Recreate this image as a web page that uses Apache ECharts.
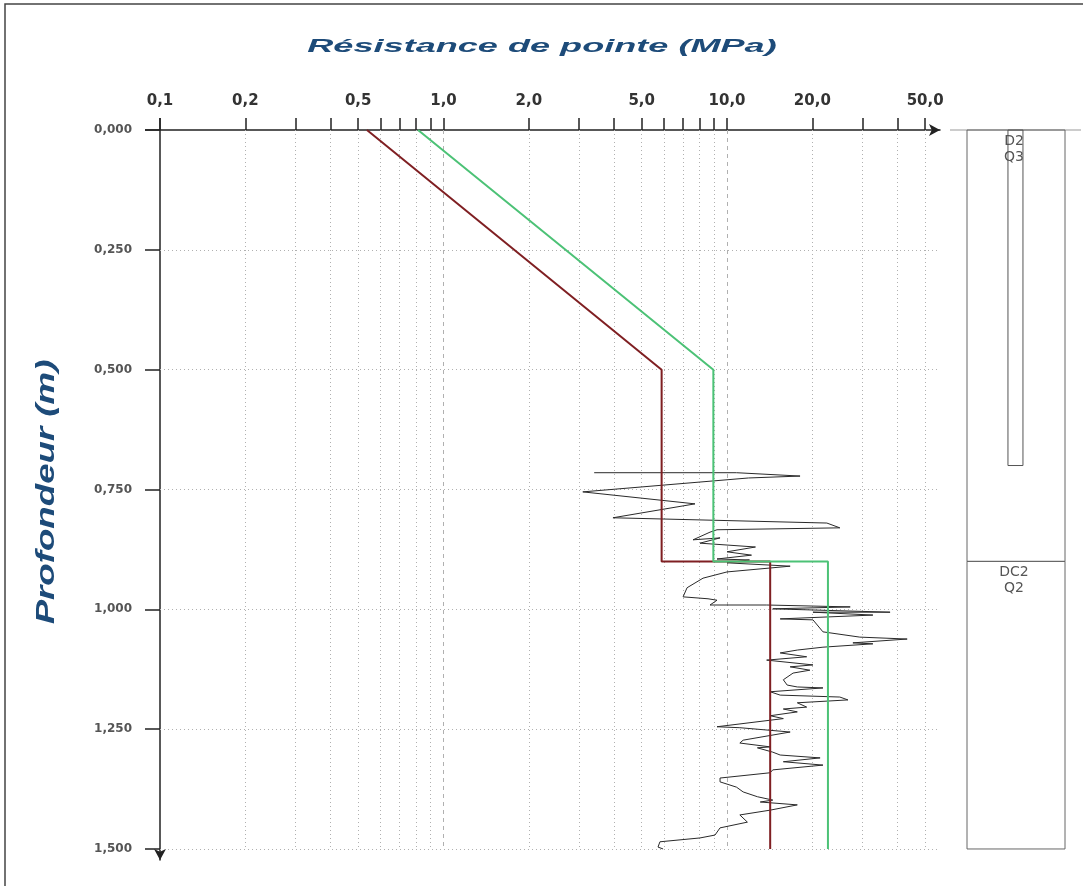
<!DOCTYPE html>
<html><head><meta charset="utf-8">
<script src="https://cdn.jsdelivr.net/npm/echarts@6/dist/echarts.min.js"></script>
<style>html,body{margin:0;padding:0;background:#fff}#c{width:1083px;height:886px}</style>
</head><body><div id="c"></div>
<script>
// ---- data ----
const xTickValues = [0.1,0.2,0.3,0.4,0.5,0.6,0.7,0.8,0.9,1,2,3,4,5,6,7,8,9,10,20,30,40,50];
const xLabelValues = [0.1,0.2,0.5,1,2,5,10,20,50];
const depthTicks = [0,0.25,0.5,0.75,1.0,1.25,1.5];

const redQ     = [0.537, 5.88, 5.88, 14.2, 14.2];
const redDepth = [0,     0.5,  0.9,  0.9,  1.5];
const greenQ     = [0.813, 8.95, 8.95, 22.7, 22.7];
const greenDepth = [0,     0.5,  0.9,  0.9,  1.5];

const profileQ = [3.40,10.8,18.1,11.9,3.10,7.71,3.96,22.5,25.0,9.22,8.71,7.59,9.45,8.03,12.6,10.0,12.2,9.22,12.0,10.0,16.7,10.0,8.23,7.23,7.0,8.57,9.22,8.71,13.8,27.2,14.5,37.6,20.1,32.7,15.4,20.1,21.8,29.4,43.2,27.8,32.7,21.8,17.7,15.4,19.1,13.8,20.1,16.7,19.6,17.1,15.8,16.3,17.7,21.8,14.2,15.4,25.0,26.7,17.7,19.1,15.8,17.7,14.2,15.8,9.22,11.1,16.7,11.4,11.1,14.2,12.8,14.5,15.4,21.3,15.8,21.8,14.5,14.2,9.45,9.45,10.8,11.4,12.8,14.5,13.1,17.7,14.2,11.1,11.8,9.45,9.07,8.03,5.80,5.71,5.95];
const profileDepth = [0.715,0.715,0.722,0.726,0.755,0.780,0.809,0.820,0.830,0.834,0.839,0.855,0.851,0.862,0.870,0.880,0.887,0.895,0.897,0.903,0.910,0.922,0.935,0.955,0.974,0.978,0.981,0.991,0.991,0.995,0.999,1.006,1.006,1.012,1.020,1.022,1.047,1.058,1.062,1.070,1.072,1.079,1.085,1.091,1.099,1.106,1.116,1.120,1.127,1.133,1.147,1.158,1.162,1.164,1.172,1.179,1.183,1.189,1.195,1.204,1.208,1.214,1.222,1.228,1.245,1.247,1.256,1.273,1.279,1.287,1.289,1.298,1.304,1.310,1.318,1.325,1.335,1.341,1.352,1.360,1.371,1.381,1.391,1.398,1.402,1.408,1.419,1.429,1.444,1.456,1.471,1.477,1.485,1.496,1.500];

const layerTop    = [0,   0.9];
const layerBottom = [0.9, 1.5];
const layerNames  = ['D2\nQ3', 'DC2\nQ2'];
const sampleTop = [0];
const sampleBottom = [0.7];

// ---- chart ----
const X_MIN = 0.1, X_MAX = 56.4, Y_MAX = 1.523;
const fmtX = v => Number(v).toFixed(1).replace('.', ',');
const fmtY = v => Number(v).toFixed(3).replace('.', ',');

const gridLines = [];
xTickValues.filter(v => v > X_MIN).forEach(v => {
  const decade = Math.abs(Math.log10(v) - Math.round(Math.log10(v))) < 1e-9;
  gridLines.push([{coord: [v, 0], lineStyle: {type: decade ? [4, 4] : [1, 3], color: '#b0b0b0', width: 1}}, {coord: [v, 1.5]}]);
});
depthTicks.filter(d => d > 0).forEach(d => {
  gridLines.push([{coord: [X_MIN, d], lineStyle: {type: [1, 3], color: '#b0b0b0', width: 1}}, {coord: [X_MAX, d]}]);
});

const chart = echarts.init(document.getElementById('c'));
chart.setOption({
  animation: false,
  backgroundColor: '#fff',
  grid: [
    {left: 160, top: 130, width: 780, bottom: 26},
    {left: 967, top: 130, width: 98, bottom: 26}
  ],
  xAxis: [
    {type: 'log', logBase: 10, gridIndex: 0, position: 'top', min: X_MIN, max: X_MAX,
     axisLine: {show: true, lineStyle: {color: '#222', width: 1.5}, symbol: ['none', 'arrow'], symbolSize: [9, 11]},
     axisTick: {show: true, inside: false, length: 12, customValues: xTickValues, lineStyle: {color: '#222', width: 1.5}},
     axisLabel: {show: true, customValues: xLabelValues, formatter: fmtX, margin: 21,
                 fontFamily: 'DejaVu Sans', fontWeight: 'bold', fontSize: 15, color: '#333'},
     splitLine: {show: false}, minorTick: {show: false}},
    {type: 'value', gridIndex: 1, min: 0, max: 1, show: false}
  ],
  yAxis: [
    {type: 'value', gridIndex: 0, inverse: true, min: 0, max: Y_MAX,
     axisLine: {show: true, lineStyle: {color: '#222', width: 1.5}, symbol: ['arrow', 'none'], symbolSize: [9, 11]},
     axisTick: {show: true, inside: false, length: 15, customValues: depthTicks, lineStyle: {color: '#222', width: 1.5}},
     axisLabel: {show: true, customValues: depthTicks, formatter: fmtY, margin: 28,
                 fontFamily: 'DejaVu Sans', fontWeight: 'bold', fontSize: 12, color: '#555'},
     splitLine: {show: false}},
    {type: 'value', gridIndex: 1, inverse: true, min: 0, max: Y_MAX, show: false}
  ],
  graphic: [
    {type: 'rect', shape: {x: 5, y: 4, width: 1200, height: 1000}, style: {fill: 'none', stroke: '#444', lineWidth: 1.5}, silent: true},
    {type: 'line', shape: {x1: 950, y1: 130, x2: 1081, y2: 130}, style: {stroke: '#999', lineWidth: 1.2}, silent: true},
    {type: 'line', shape: {x1: 145, y1: 130, x2: 160, y2: 130}, style: {stroke: '#222', lineWidth: 1.5}, silent: true},
    {type: 'line', shape: {x1: 160, y1: 118, x2: 160, y2: 130}, style: {stroke: '#222', lineWidth: 1.5}, silent: true},
    {type: 'text', x: 542, y: 47, scaleX: 1.9,
     style: {text: 'Résistance de pointe (MPa)', align: 'center', verticalAlign: 'middle',
             font: 'italic bold 19px "Liberation Sans"', fill: '#1d4b79'}},
    {type: 'text', x: 47, y: 492, rotation: Math.PI / 2, scaleX: 1.41,
     style: {text: 'Profondeur (m)', align: 'center', verticalAlign: 'middle',
             font: 'italic bold 26px "Liberation Sans"', fill: '#1d4b79'}}
  ],
  series: [
    {type: 'line', name: 'profil', xAxisIndex: 0, yAxisIndex: 0, showSymbol: false, symbol: 'none',
     data: profileQ.map((q, i) => [q, profileDepth[i]]),
     lineStyle: {color: '#2a2a2a', width: 1}, z: 3,
     markLine: {silent: true, symbol: ['none', 'none'], label: {show: false}, animation: false, data: gridLines, z: 1}},
    {type: 'line', name: 'rouge', xAxisIndex: 0, yAxisIndex: 0, showSymbol: false, symbol: 'none',
     data: redQ.map((q, i) => [q, redDepth[i]]),
     lineStyle: {color: '#7f1f22', width: 2}, z: 4},
    {type: 'line', name: 'vert', xAxisIndex: 0, yAxisIndex: 0, showSymbol: false, symbol: 'none',
     data: greenQ.map((q, i) => [q, greenDepth[i]]),
     lineStyle: {color: '#4cc276', width: 2}, z: 4},
    {type: 'custom', name: 'couches', xAxisIndex: 1, yAxisIndex: 1, clip: false,
     data: layerTop.map((t, i) => [t, layerBottom[i], i]),
     renderItem: (params, api) => {
       const top = api.value(0), bot = api.value(1), idx = api.value(2);
       const p0 = api.coord([0, top]), p1 = api.coord([1, bot]);
       return {type: 'group', children: [
         {type: 'rect', shape: {x: p0[0], y: p0[1], width: p1[0] - p0[0], height: p1[1] - p0[1]},
          style: {fill: 'none', stroke: '#666', lineWidth: 1}},
         {type: 'text', style: {text: layerNames[idx], x: (p0[0] + p1[0]) / 2 - 2, y: p0[1] + 3,
          align: 'center', verticalAlign: 'top', fill: '#555', font: '14px "DejaVu Sans"', lineHeight: 16}}
       ]};
     }},
    {type: 'custom', name: 'tube', xAxisIndex: 1, yAxisIndex: 1, clip: false,
     data: sampleTop.map((t, i) => [t, sampleBottom[i]]),
     renderItem: (params, api) => {
       const p0 = api.coord([0.418, api.value(0)]), p1 = api.coord([0.571, api.value(1)]);
       return {type: 'rect', shape: {x: p0[0], y: p0[1], width: p1[0] - p0[0], height: p1[1] - p0[1]},
               style: {fill: 'none', stroke: '#555', lineWidth: 1}};
     }}
  ]
});
</script></body></html>
